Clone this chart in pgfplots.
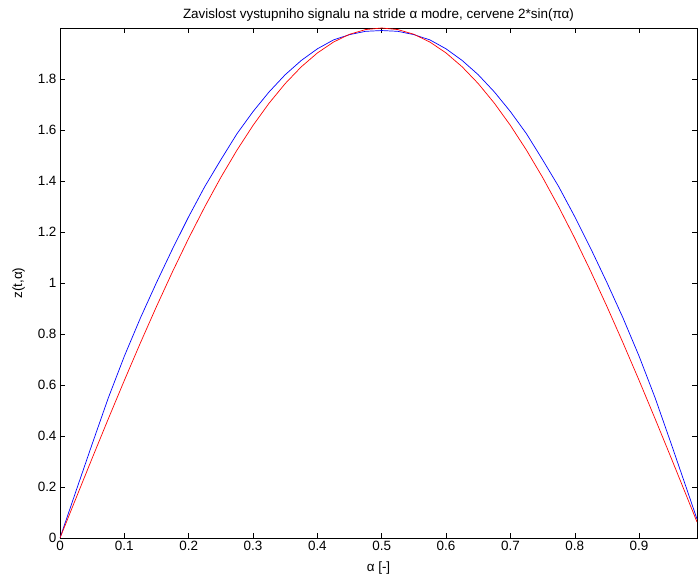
\documentclass[border=0pt]{standalone}
\usepackage{fontspec}
\setmainfont{Liberation Sans}
\usepackage{pgfplots}
\pgfplotsset{compat=1.18}

\pgfplotstableread{
a      z
0      0
0.025  0.1851
0.05   0.3686
0.075  0.5489
0.1    0.7130
0.125  0.8629
0.15   1.0018
0.175  1.1344
0.2    1.2602
0.225  1.3781
0.25   1.4834
0.275  1.5852
0.3    1.6722
0.325  1.7495
0.35   1.8168
0.375  1.8727
0.4    1.9183
0.425  1.9532
0.45   1.9740
0.475  1.9870
0.5    1.9900
0.525  1.9870
0.55   1.9740
0.575  1.9532
0.6    1.9183
0.625  1.8727
0.65   1.8168
0.675  1.7495
0.7    1.6722
0.725  1.5852
0.75   1.4834
0.775  1.3781
0.8    1.2602
0.825  1.1344
0.85   1.0018
0.875  0.8629
0.9    0.7130
0.925  0.5489
0.95   0.3686
0.975  0.1851
0.99   0.0740
}\bluedata

\pgfplotstableread{
a      z
0      0
0.025  0.1569
0.05   0.3129
0.075  0.4669
0.1    0.6180
0.125  0.7654
0.15   0.9080
0.175  1.0450
0.2    1.1756
0.225  1.2988
0.25   1.4142
0.275  1.5208
0.3    1.6180
0.325  1.7053
0.35   1.7820
0.375  1.8478
0.4    1.9021
0.425  1.9447
0.45   1.9754
0.475  1.9938
0.5    2.0000
0.525  1.9938
0.55   1.9754
0.575  1.9447
0.6    1.9021
0.625  1.8478
0.65   1.7820
0.675  1.7053
0.7    1.6180
0.725  1.5208
0.75   1.4142
0.775  1.2988
0.8    1.1756
0.825  1.0450
0.85   0.9080
0.875  0.7654
0.9    0.6180
0.925  0.4669
0.95   0.3129
0.975  0.1569
0.99   0.0628
}\reddata

\begin{document}
\begin{tikzpicture}
\begin{axis}[
    scale only axis, width=637bp, height=510bp,
    xmin=0, xmax=0.99, ymin=0, ymax=2,
    xtick={0,0.1,...,0.9}, ytick={0,0.2,...,1.8},
    tick align=inside, major tick length=5bp,
    tick style={black, line width=0.5bp},
    axis line style={line width=0.8bp},
    /pgf/number format/fixed, /pgf/number format/precision=1,
    /pgf/number format/assume math mode=true,
    tick label style={font=\fontsize{13.5}{15}\selectfont},
    label style={font=\fontsize{13.5}{15}\selectfont},
    xlabel={α [-]}, ylabel={z(t,α)},
    xlabel style={yshift=-4bp}, ylabel style={yshift=6bp},
    title={Zavislost vystupniho signalu na stride α modre, cervene 2*sin(πα)},
    title style={font=\fontsize{13.5}{15}\selectfont, yshift=-3bp},
]
\addplot[blue, line width=0.7bp] table[x=a, y=z] {\bluedata};
\addplot[red, line width=0.7bp] table[x=a, y=z] {\reddata};
\end{axis}
\path (current axis.south west) ++(-60bp,-45bp);
\path (current axis.north east) ++(2bp,28bp);
\end{tikzpicture}
\end{document}
